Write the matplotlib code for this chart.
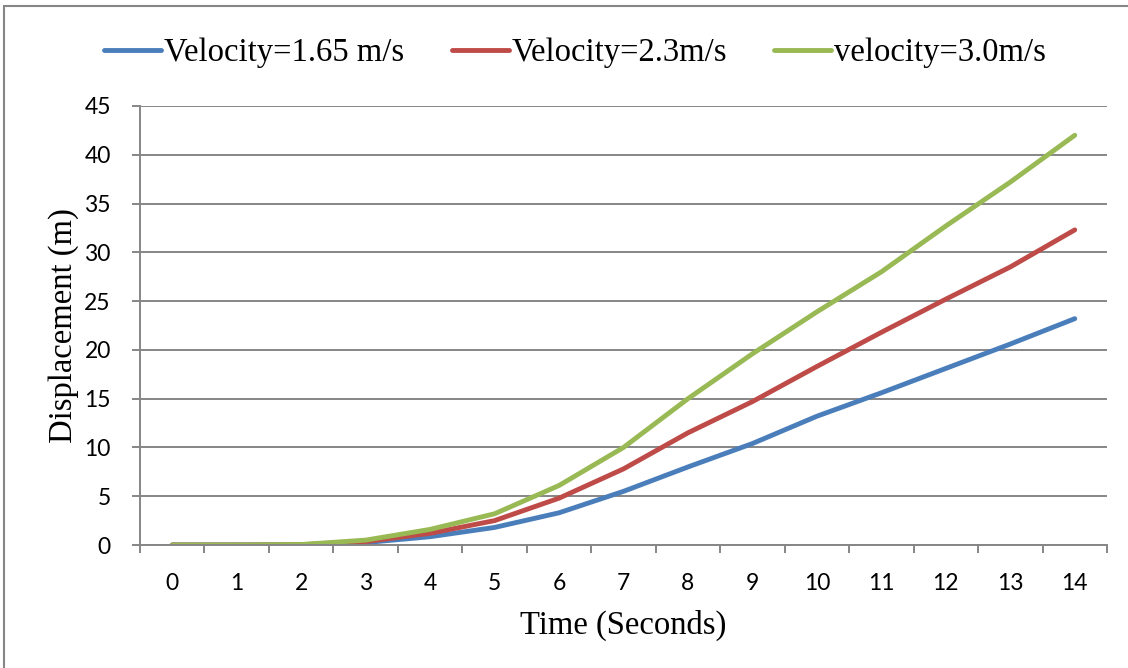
import numpy as np
import matplotlib
matplotlib.use("Agg")
import matplotlib.pyplot as plt
from matplotlib.patches import Rectangle

# time in seconds (categories)
time_s = list(range(15))
time_labels = [str(t) for t in time_s]

# displacement (m)
disp_165 = [0, 0, 0.02, 0.25, 0.85, 1.8, 3.3, 5.5, 8.0, 10.4, 13.2, 15.6, 18.1, 20.6, 23.2]
disp_23 = [0, 0, 0.03, 0.35, 1.2, 2.5, 4.8, 7.8, 11.5, 14.7, 18.3, 21.8, 25.2, 28.5, 32.3]
disp_30 = [0, 0, 0.05, 0.5, 1.6, 3.2, 6.1, 10.0, 15.0, 19.6, 23.9, 28.0, 32.7, 37.2, 42.0]

series_names = ["Velocity=1.65 m/s", "Velocity=2.3m/s", "velocity=3.0m/s"]
colors = ["#4A7EBB", "#BE4B48", "#98B954"]

serif = "Liberation Serif"
sans = "Lato"

fig = plt.figure(figsize=(11.28, 6.68), dpi=100)
ax = fig.add_axes([140 / 1128, 1 - 545 / 668, (1107 - 140) / 1128, (545 - 106) / 668])

# outer chart border
fig.patches.append(Rectangle((4 / 1128, -0.05), 1.2, 1 - 6 / 668 + 0.05,
                             transform=fig.transFigure, fill=False,
                             edgecolor="#868686", linewidth=1.5))

for vals, name, c in zip([disp_165, disp_23, disp_30], series_names, colors):
    ax.plot(time_s, vals, color=c, linewidth=3.5, solid_capstyle="round",
            solid_joinstyle="round", label=name)

ax.set_xlim(-0.5, 14.5)
ax.set_ylim(0, 45)
ax.set_yticks(np.arange(0, 46, 5))
ax.set_xticks(time_s)
ax.set_xticklabels(time_labels)
ax.set_xticks(np.arange(-0.5, 15, 1), minor=True)

ax.grid(axis="y", color="#868686", linewidth=1.4)
ax.set_axisbelow(True)
for s in ["top", "right"]:
    ax.spines[s].set_visible(False)
for s in ["left", "bottom"]:
    ax.spines[s].set_color("#868686")
    ax.spines[s].set_linewidth(1.4)

ax.tick_params(axis="x", which="major", length=0, pad=20, labelsize=16.5)
ax.tick_params(axis="x", which="minor", length=6, width=1.4, color="#868686")
ax.tick_params(axis="y", length=6, width=1.4, color="#868686", pad=15, labelsize=16.5)
for lab in ax.get_xticklabels() + ax.get_yticklabels():
    lab.set_family(sans)

ax.set_xlabel("Time (Seconds)", family=serif, fontsize=23.5)
ax.set_ylabel("Displacement (m)", family=serif, fontsize=23.5)
ax.xaxis.set_label_coords(0.5, -0.148)
ax.yaxis.set_label_coords(-0.063, 0.5)

ax.legend(loc="center", bbox_to_anchor=(575 / 1128, (668 - 53) / 668), bbox_transform=fig.transFigure,
          ncol=3, frameon=False, prop={"family": serif, "size": 23.5},
          handlelength=1.75, handletextpad=0.08, columnspacing=1.45)

fig.savefig("out.png", dpi=100)
